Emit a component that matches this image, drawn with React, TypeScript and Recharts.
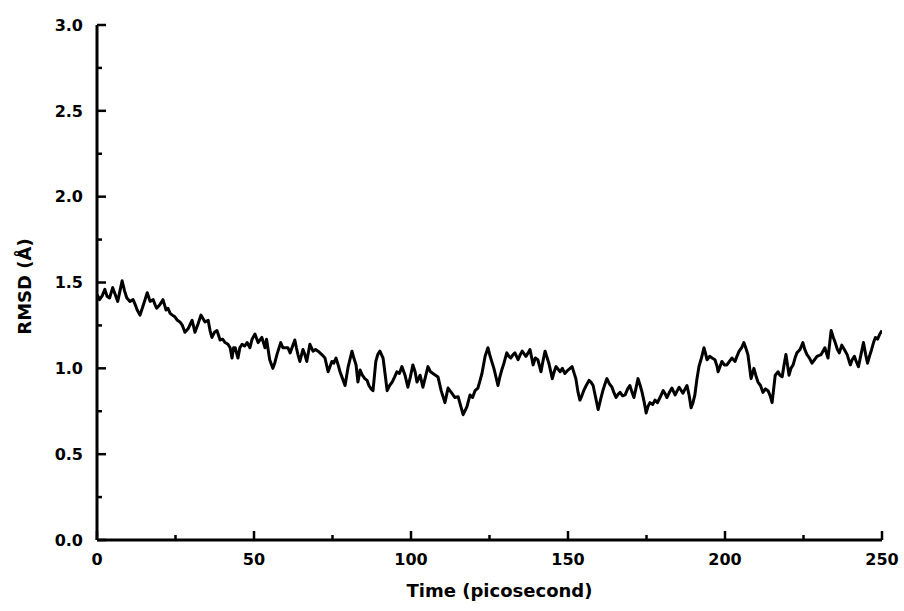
import React from "react";
import { LineChart, Line, XAxis, YAxis, Label } from "recharts";

// time (ps)
const times: number[] = [
  0, 0.8, 1.6, 2.5, 3.2, 4, 5, 5.8, 6.6, 7.3, 8, 8.8, 9.5, 10.5, 11.5, 12.2, 12.8, 13.7, 14.6, 15.3,
  16, 16.9, 17.9, 18.5, 19, 20, 21, 22, 22.6, 23.3, 24, 24.8, 25.6, 26.4, 27.2, 28, 29, 30.3, 31.2, 32.2,
  33.1, 34.4, 35.4, 36, 36.6, 37.4, 38.2, 39.2, 40, 40.8, 41.7, 42.4, 43, 43.5, 44, 44.9, 45.5, 46.2, 47, 47.8,
  48.7, 49.4, 50.3, 51.3, 52.5, 53.5, 54, 55, 56, 56.6, 57.3, 58.5, 59.2, 59.9, 60.8, 61.5, 62.3, 63, 63.5, 64,
  64.6, 65.6, 66.2, 66.8, 67.8, 68.8, 69.6, 70.4, 71.6, 72.6, 73.6, 74.8, 75.4, 76.1, 76.8, 77.4, 78.2, 79, 80, 81.2,
  81.8, 82.5, 83.1, 83.8, 84.5, 85.3, 86, 86.6, 87.3, 87.9, 88.8, 89.4, 90.1, 91.1, 91.8, 92.4, 93.2, 94, 94.8, 95.5,
  96.3, 97.1, 98.1, 99, 99.8, 100.6, 101.3, 101.9, 102.9, 103.8, 104.6, 105.4, 106.2, 107, 108.6, 109.6, 110.8, 111.8, 113, 114,
  115, 116, 116.6, 117.8, 118.8, 119.6, 120.4, 121.3, 122, 122.6, 123.6, 124.5, 125.2, 126.4, 127.7, 128.3, 128.9, 129.6, 130.5, 131.2,
  131.8, 132.5, 133.1, 134.1, 134.8, 135.4, 136.6, 137.3, 137.9, 138.9, 139.6, 140.4, 141.4, 142, 142.7, 143.9, 145, 145.6, 146.2, 147.5,
  148.2, 149, 150, 151.3, 152.5, 153.2, 153.8, 154.4, 155, 155.8, 156.7, 157.3, 158, 158.8, 159.6, 160.4, 161.1, 161.8, 162.4, 163.2,
  164, 164.6, 165.3, 166, 166.6, 167.4, 168.2, 169, 169.7, 170.4, 171, 171.6, 172.3, 173, 173.6, 174.3, 174.9, 175.5, 176.1, 177,
  177.7, 178.5, 179.3, 180.3, 181, 181.5, 182.3, 183.1, 184.1, 184.8, 185.4, 186.6, 187.3, 187.9, 188.6, 189.2, 189.8, 190.4, 191, 191.7,
  192.5, 193.3, 194.3, 195.1, 195.9, 196.8, 197.5, 197.8, 198.4, 199, 199.8, 200.6, 201.4, 202.2, 203.2, 203.8, 204.5, 205.3, 206, 206.6,
  207.3, 208.3, 209.2, 209.8, 210.5, 211.3, 212.1, 212.9, 213.7, 214.4, 215, 215.5, 216, 216.9, 217.5, 218.2, 218.8, 219.4, 220.4, 221,
  221.7, 222.3, 222.9, 223.9, 224.8, 225.4, 226.1, 226.9, 227.7, 228.5, 229.3, 230.6, 231.2, 231.8, 232.8, 233.3, 233.8, 234.5, 235.1, 235.8,
  236.4, 237.2, 238, 238.9, 239.9, 240.5, 241.2, 241.8, 242.5, 243.3, 244.1, 244.8, 245.4, 246, 246.7, 247.3, 247.9, 248.6, 249.3, 250,
];

// RMSD (Å)
const rmsd: number[] = [
  1.43, 1.4, 1.42, 1.46, 1.42, 1.41, 1.47, 1.43, 1.39, 1.45, 1.51, 1.45, 1.41, 1.39, 1.4, 1.37, 1.34, 1.31, 1.36, 1.4,
  1.44, 1.39, 1.4, 1.37, 1.35, 1.37, 1.4, 1.34, 1.35, 1.32, 1.31, 1.3, 1.28, 1.27, 1.25, 1.21, 1.23, 1.28, 1.21, 1.26,
  1.31, 1.27, 1.28, 1.22, 1.18, 1.21, 1.22, 1.165, 1.17, 1.15, 1.14, 1.12, 1.06, 1.12, 1.12, 1.06, 1.12, 1.14, 1.13, 1.15,
  1.12, 1.17, 1.2, 1.15, 1.18, 1.12, 1.17, 1.05, 1.0, 1.03, 1.08, 1.15, 1.12, 1.12, 1.12, 1.09, 1.13, 1.165, 1.12, 1.08,
  1.04, 1.11, 1.08, 1.04, 1.14, 1.1, 1.11, 1.1, 1.08, 1.06, 0.98, 1.04, 1.03, 1.06, 1.02, 0.98, 0.94, 0.9, 1.01, 1.1,
  1.06, 1.02, 0.92, 0.99, 0.96, 0.94, 0.93, 0.9, 0.88, 0.87, 1.04, 1.08, 1.1, 1.06, 0.96, 0.87, 0.9, 0.92, 0.95, 0.98,
  0.97, 1.01, 0.96, 0.89, 0.95, 1.02, 0.98, 0.92, 0.96, 0.89, 0.95, 1.01, 0.98, 0.97, 0.95, 0.87, 0.8, 0.885, 0.855, 0.83,
  0.835, 0.77, 0.73, 0.775, 0.845, 0.83, 0.87, 0.885, 0.93, 0.97, 1.07, 1.12, 1.07, 1.0, 0.9, 0.95, 0.99, 1.03, 1.09, 1.07,
  1.06, 1.08, 1.09, 1.05, 1.08, 1.1, 1.07, 1.09, 1.11, 1.02, 1.06, 1.05, 0.98, 1.04, 1.1, 1.03, 0.94, 0.98, 1.01, 0.98,
  1.0, 0.97, 0.99, 1.01, 0.94, 0.86, 0.815, 0.84, 0.87, 0.9, 0.93, 0.92, 0.9, 0.83, 0.76, 0.82, 0.87, 0.91, 0.94, 0.91,
  0.89, 0.86, 0.83, 0.85, 0.86, 0.84, 0.845, 0.88, 0.9, 0.86, 0.83, 0.88, 0.94, 0.9, 0.86, 0.8, 0.74, 0.78, 0.8, 0.79,
  0.815, 0.8, 0.83, 0.87, 0.85, 0.83, 0.86, 0.885, 0.845, 0.87, 0.89, 0.855, 0.88, 0.9, 0.84, 0.77, 0.8, 0.845, 0.93, 1.01,
  1.06, 1.12, 1.05, 1.07, 1.06, 1.05, 1.01, 0.98, 1.01, 1.04, 1.02, 1.02, 1.04, 1.06, 1.04, 1.07, 1.1, 1.12, 1.15, 1.12,
  1.08, 0.94, 1.0, 0.96, 0.92, 0.9, 0.86, 0.88, 0.87, 0.84, 0.8, 0.88, 0.96, 0.98, 0.96, 0.95, 1.02, 1.08, 0.96, 1.0,
  1.02, 1.06, 1.09, 1.11, 1.15, 1.11, 1.08, 1.06, 1.03, 1.05, 1.07, 1.08, 1.1, 1.12, 1.06, 1.14, 1.22, 1.18, 1.15, 1.11,
  1.09, 1.135, 1.11, 1.08, 1.02, 1.05, 1.07, 1.04, 1.01, 1.08, 1.15, 1.08, 1.03, 1.07, 1.11, 1.15, 1.18, 1.17, 1.2, 1.22,
];

const xTicks: number[] = [0, 25, 50, 75, 100, 125, 150, 175, 200, 225, 250];
const xMajor: number[] = [0, 50, 100, 150, 200, 250];
const yTicks: number[] = [0, 0.25, 0.5, 0.75, 1, 1.25, 1.5, 1.75, 2, 2.25, 2.5, 2.75, 3];
const yMajor: number[] = [0, 0.5, 1, 1.5, 2, 2.5, 3];

const data = times.map((t, i) => ({ t, v: rmsd[i] }));

const FONT = "'DejaVu Sans', 'Liberation Sans', Arial, sans-serif";
const TICK_SIZE = 8;
const Y_MARGIN = 6;
const X_MARGIN = 5;

const YTick = (props: any) => {
  const { x, y, payload } = props;
  const v = payload.value as number;
  const major = yMajor.includes(v);
  const ax = x + TICK_SIZE + Y_MARGIN;
  return (
    <g>
      <line x1={ax} x2={ax + (major ? 9 : 5)} y1={y} y2={y} stroke="#000" strokeWidth={2.5} />
      {major && (
        <text x={x} y={y} dy="0.36em" textAnchor="end" fontFamily={FONT} fontWeight="bold" fontSize={16} fill="#000">
          {v.toFixed(1)}
        </text>
      )}
    </g>
  );
};

const XTick = (props: any) => {
  const { x, y, payload } = props;
  const v = payload.value as number;
  const major = xMajor.includes(v);
  const ay = y - TICK_SIZE - X_MARGIN;
  return (
    <g>
      <line x1={x} x2={x} y1={ay} y2={ay - (major ? 9 : 5)} stroke="#000" strokeWidth={2.5} />
      {major && (
        <text x={x} y={y} dy="0.75em" textAnchor="middle" fontFamily={FONT} fontWeight="bold" fontSize={16} fill="#000">
          {v}
        </text>
      )}
    </g>
  );
};

const YTitle = (props: any) => {
  const vb = props.viewBox || {};
  const cx = (vb.x ?? 0) + 24;
  const cy = (vb.y ?? 0) + (vb.height ?? 0) / 2 + 4;
  return (
    <text
      x={cx}
      y={cy}
      transform={`rotate(-90, ${cx}, ${cy})`}
      textAnchor="middle"
      dominantBaseline="central"
      fontFamily={FONT}
      fontWeight="bold"
      fontSize={18}
      fill="#000"
    >
      RMSD (Å)
    </text>
  );
};

export default function App() {
  return (
    <div style={{ position: "absolute", left: 0, top: 0, width: 904, height: 611, background: "#fff" }}>
      <LineChart width={904} height={611} data={data} margin={{ top: 25, right: 22, left: 0, bottom: 0 }}>
        <XAxis
          dataKey="t"
          type="number"
          domain={[0, 250]}
          ticks={xTicks}
          interval={0}
          height={71}
          tickSize={TICK_SIZE}
          tickMargin={X_MARGIN}
          tickLine={false}
          axisLine={{ stroke: "#000", strokeWidth: 3 }}
          tick={<XTick />}
          allowDataOverflow
        >
          <Label
            value="Time (picosecond)"
            position="insideBottom"
            offset={14}
            dx={10}
            style={{ fontFamily: FONT, fontWeight: "bold", fontSize: 18, fill: "#000" }}
          />
        </XAxis>
        <YAxis
          type="number"
          domain={[0, 3]}
          ticks={yTicks}
          interval={0}
          width={97}
          tickSize={TICK_SIZE}
          tickMargin={Y_MARGIN}
          tickLine={false}
          axisLine={{ stroke: "#000", strokeWidth: 3 }}
          tick={<YTick />}
          allowDataOverflow
        >
          <Label content={<YTitle />} />
        </YAxis>
        <Line
          type="linear"
          dataKey="v"
          stroke="#000"
          strokeWidth={3}
          strokeLinejoin="round"
          dot={false}
          isAnimationActive={false}
        />
      </LineChart>
    </div>
  );
}
